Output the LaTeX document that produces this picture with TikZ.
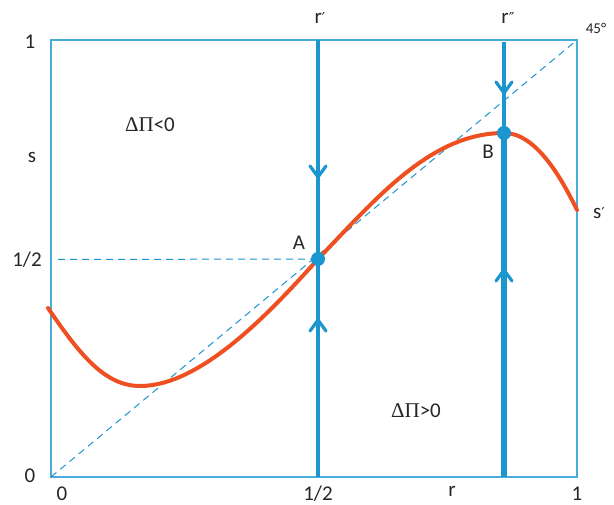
\documentclass[tikz,border=0pt]{standalone}
\usepackage{fontspec}
\setmainfont{Carlito}
\newfontfamily\primefont{DejaVu Sans}
\newfontfamily\grk{Liberation Serif}
\newcommand{\pr}{{\primefont\fontsize{15}{18}\selectfont ′}}
\begin{document}
\begin{tikzpicture}[x=1pt,y=-1pt,
  every node/.style={font=\fontsize{21}{24}\selectfont,text=black!85,inner sep=0pt},
  frame/.style={draw=axisblue!80,line width=1.4pt},
  guide/.style={draw=axisblue,line width=1pt,dash pattern=on 7pt off 5pt},
  traj/.style={draw=axisblue,line width=4.2pt},
  chev/.style={draw=axisblue,line width=3.2pt,line cap=round,line join=miter},
  curve/.style={draw=curveorange,line width=4pt,line cap=round},
  dot/.style={fill=axisblue,circle,minimum size=14pt,inner sep=0pt}]
\definecolor{axisblue}{RGB}{28,150,206}
\definecolor{curveorange}{RGB}{238,80,34}
\useasboundingbox (0,0) rectangle (614,505);
\fill[white] (0,0) rectangle (614,505);
% frame
\coordinate (O) at (51,477);
\coordinate (TR) at (577,40);
\draw[frame] (O) rectangle (TR);
% dashed guides
\coordinate (h0) at (58,259.5);
\draw[guide] (O) -- (TR);
% vertical trajectories
\coordinate (p1t) at (318,40);
\coordinate (p1b) at (318,477);
\coordinate (p2t) at (504,42);
\coordinate (p2m) at (504,133);
\coordinate (p2b) at (504,477);
\draw[traj] (p1t) -- (p1b);
\draw[traj,line width=4.6pt] (p2t) -- (p2m);
\draw[traj,line width=6pt] (p2m) -- (p2b);
% chevrons
\draw[chev] (310,166) -- (318,177) -- (326,166);
\draw[chev] (310,331) -- (318,320) -- (326,331);
\draw[chev] (496,82) -- (504,93) -- (512,82);
\draw[chev] (496,281) -- (504,270) -- (512,281);
% orange curve
\coordinate (c0) at (48,308);
\coordinate (c1) at (140,386);
\coordinate (A) at (318,259);
\coordinate (B) at (504,133);
\coordinate (c4) at (577,210);
\draw[curve] (c0) .. controls (80,355) and (105,386) .. (c1)
  .. controls (200,386) and (268,315) .. (A)
  .. controls (375,200) and (430,133) .. (B)
  .. controls (535,133) and (560,175) .. (c4);
\draw[guide] (h0) -- (A);
% dots
\node[dot] (dA) at (A) {};
\node[dot] (dB) at (B) {};
% labels
\node (lA) at (299,243) {A};
\node (lB) at (488,152) {B};
\node (lr1) at (320,18) {r\pr};
\node (lr2) at (508,18) {r\pr\kern-1pt\pr};
\node (l45) at (596,28) {\fontsize{15}{18}\selectfont 45°};
\node (ly1) at (30,42) {1};
\node (lys) at (32,157) {s};
\node (lyh) at (27,260) {1/2};
\node (ly0) at (30,476) {0};
\node (lx0) at (62,494) {0};
\node (lxh) at (318,494) {1/2};
\node (lxr) at (452,491) {r};
\node (lx1) at (577,494) {1};
\node (ls) at (599,213) {s\pr};
\node (neg) at (150,125) {{\grk ΔΠ}<0};
\node (pos) at (416,411) {{\grk ΔΠ}>0};
\end{tikzpicture}
\end{document}
